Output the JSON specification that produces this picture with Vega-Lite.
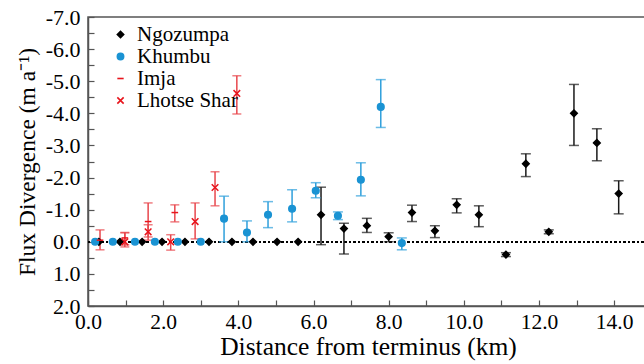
{
  "$schema": "https://vega.github.io/schema/vega-lite/v6.json",
  "width": 560,
  "height": 289,
  "autosize": {"type": "none"},
  "padding": {"left": 88, "top": 17, "right": 0, "bottom": 58},
  "config": {
    "font": "Liberation Serif",
    "view": {"stroke": "#555555", "strokeWidth": 1.5},
    "axis": {"grid": false},
    "legend": {"labelFontSize": 21, "labelColor": "black", "labelFont": "Liberation Serif", "symbolSize": 40, "symbolStrokeWidth": 1.6, "rowPadding": 0, "labelOffset": 6, "labelLimit": 300}
  },
  "data": {
    "values": [
      {"series": "Ngozumpa", "x": 0.29, "y": 0},
      {"series": "Ngozumpa", "x": 0.85, "y": 0},
      {"series": "Ngozumpa", "x": 1.44, "y": 0},
      {"series": "Ngozumpa", "x": 1.97, "y": 0},
      {"series": "Ngozumpa", "x": 2.58, "y": 0},
      {"series": "Ngozumpa", "x": 3.22, "y": 0},
      {"series": "Ngozumpa", "x": 3.83, "y": 0},
      {"series": "Ngozumpa", "x": 4.39, "y": 0},
      {"series": "Ngozumpa", "x": 5.03, "y": 0},
      {"series": "Ngozumpa", "x": 5.59, "y": 0},
      {"series": "Ngozumpa", "x": 6.2, "y": -0.84, "lo": -1.7, "hi": 0.09},
      {"series": "Ngozumpa", "x": 6.81, "y": -0.41, "lo": -0.58, "hi": 0.38},
      {"series": "Ngozumpa", "x": 7.42, "y": -0.5, "lo": -0.73, "hi": -0.29},
      {"series": "Ngozumpa", "x": 8.0, "y": -0.16, "lo": -0.28, "hi": 0.0},
      {"series": "Ngozumpa", "x": 8.62, "y": -0.91, "lo": -1.14, "hi": -0.63},
      {"series": "Ngozumpa", "x": 9.23, "y": -0.34, "lo": -0.5, "hi": -0.13},
      {"series": "Ngozumpa", "x": 9.81, "y": -1.15, "lo": -1.34, "hi": -0.9},
      {"series": "Ngozumpa", "x": 10.4, "y": -0.84, "lo": -1.12, "hi": -0.47},
      {"series": "Ngozumpa", "x": 11.12, "y": 0.4, "lo": 0.34, "hi": 0.46},
      {"series": "Ngozumpa", "x": 11.65, "y": -2.43, "lo": -2.74, "hi": -2.03},
      {"series": "Ngozumpa", "x": 12.26, "y": -0.31, "lo": -0.37, "hi": -0.25},
      {"series": "Ngozumpa", "x": 12.93, "y": -4.0, "lo": -4.9, "hi": -3.0},
      {"series": "Ngozumpa", "x": 13.54, "y": -3.08, "lo": -3.52, "hi": -2.52},
      {"series": "Ngozumpa", "x": 14.12, "y": -1.5, "lo": -1.9, "hi": -0.87},
      {"series": "Khumbu", "x": 0.19, "y": 0},
      {"series": "Khumbu", "x": 0.66, "y": 0},
      {"series": "Khumbu", "x": 1.25, "y": 0},
      {"series": "Khumbu", "x": 1.78, "y": 0},
      {"series": "Khumbu", "x": 2.39, "y": 0},
      {"series": "Khumbu", "x": 3.0, "y": 0},
      {"series": "Khumbu", "x": 3.62, "y": -0.72, "lo": -1.42, "hi": 0.0},
      {"series": "Khumbu", "x": 4.23, "y": -0.29, "lo": -0.65, "hi": 0.0},
      {"series": "Khumbu", "x": 4.79, "y": -0.84, "lo": -1.25, "hi": -0.44},
      {"series": "Khumbu", "x": 5.43, "y": -1.03, "lo": -1.62, "hi": -0.62},
      {"series": "Khumbu", "x": 6.06, "y": -1.59, "lo": -1.84, "hi": -1.37},
      {"series": "Khumbu", "x": 6.65, "y": -0.81, "lo": -0.93, "hi": -0.69},
      {"series": "Khumbu", "x": 7.26, "y": -1.93, "lo": -2.46, "hi": -1.43},
      {"series": "Khumbu", "x": 7.79, "y": -4.2, "lo": -5.05, "hi": -3.56},
      {"series": "Khumbu", "x": 8.35, "y": 0.04, "lo": -0.12, "hi": 0.25},
      {"series": "Imja", "x": 0.32, "y": -0.05, "lo": -0.37, "hi": 0.25},
      {"series": "Imja", "x": 0.98, "y": -0.12, "lo": -0.29, "hi": 0.1},
      {"series": "Imja", "x": 1.6, "y": -0.63, "lo": -1.21, "hi": -0.05},
      {"series": "Imja", "x": 2.31, "y": -0.91, "lo": -1.15, "hi": -0.62},
      {"series": "Lhotse Shar", "x": 0.98, "y": 0.0, "lo": -0.28, "hi": 0.16},
      {"series": "Lhotse Shar", "x": 1.6, "y": -0.31, "lo": -0.53, "hi": -0.15},
      {"series": "Lhotse Shar", "x": 2.2, "y": 0.0, "lo": -0.22, "hi": 0.26},
      {"series": "Lhotse Shar", "x": 2.85, "y": -0.63, "lo": -1.21, "hi": -0.09},
      {"series": "Lhotse Shar", "x": 3.38, "y": -1.69, "lo": -2.18, "hi": -1.12},
      {"series": "Lhotse Shar", "x": 3.96, "y": -4.62, "lo": -5.17, "hi": -3.98}
    ]
  },
  "encoding": {
    "x": {
      "field": "x", "type": "quantitative",
      "scale": {"domain": [0, 14.9], "nice": false, "zero": false},
      "axis": {
        "title": "Distance from terminus (km)",
        "values": [0, 1, 2, 3, 4, 5, 6, 7, 8, 9, 10, 11, 12, 13, 14],
        "labelExpr": "datum.value % 2 === 0 ? format(datum.value, '.1f') : ''",
        "labelFontSize": 21.5, "labelColor": "black", "labelPadding": 11,
        "tickSize": -6, "tickColor": "#555555", "tickWidth": 1.2,
        "domainColor": "#555555", "domainWidth": 1.5,
        "titleFontSize": 25.5, "titleFontWeight": "normal", "titleColor": "black", "titlePadding": 2,
        "labelOverlap": false, "labelFlush": false
      }
    },
    "y": {
      "field": "y", "type": "quantitative",
      "scale": {"domain": [-7, 2], "reverse": true, "nice": false, "zero": false},
      "axis": {
        "title": "Flux Divergence (m a⁻¹)",
        "values": [-7, -6.5, -6, -5.5, -5, -4.5, -4, -3.5, -3, -2.5, -2, -1.5, -1, -0.5, 0, 0.5, 1, 1.5, 2],
        "labelExpr": "datum.value % 1 === 0 ? replace(format(datum.value, '.1f'), '−', '-') : ''",
        "labelFontSize": 22, "labelColor": "black", "labelPadding": 14,
        "tickSize": -6, "tickColor": "#555555", "tickWidth": 1.2,
        "domainColor": "#555555", "domainWidth": 1.5,
        "titleFontSize": 23.5, "titleFontWeight": "normal", "titleColor": "black", "titlePadding": 6,
        "labelOverlap": false, "labelFlush": false
      }
    }
  },
  "layer": [
    {
      "mark": {"type": "rule", "color": "black", "strokeDash": [2, 2.5], "strokeWidth": 1.5},
      "encoding": {"y": {"datum": 0}, "x": null}
    },
    {
      "transform": [{"filter": "datum.series === 'Ngozumpa' && isValid(datum.lo)"}],
      "layer": [
        {"mark": {"type": "rule", "strokeWidth": 1.5, "color": "#1a1a1a"}, "encoding": {"y": {"field": "lo", "type": "quantitative"}, "y2": {"field": "hi"}}},
        {"mark": {"type": "tick", "orient": "horizontal", "size": 10, "thickness": 1.5, "color": "#1a1a1a"}, "encoding": {"y": {"field": "lo", "type": "quantitative"}}},
        {"mark": {"type": "tick", "orient": "horizontal", "size": 10, "thickness": 1.5, "color": "#1a1a1a"}, "encoding": {"y": {"field": "hi", "type": "quantitative"}}}
      ]
    },
    {
      "transform": [{"filter": "datum.series === 'Khumbu' && isValid(datum.lo)"}],
      "layer": [
        {"mark": {"type": "rule", "strokeWidth": 1.5, "color": "#2e9fdb"}, "encoding": {"y": {"field": "lo", "type": "quantitative"}, "y2": {"field": "hi"}}},
        {"mark": {"type": "tick", "orient": "horizontal", "size": 10, "thickness": 1.5, "color": "#2e9fdb"}, "encoding": {"y": {"field": "lo", "type": "quantitative"}}},
        {"mark": {"type": "tick", "orient": "horizontal", "size": 10, "thickness": 1.5, "color": "#2e9fdb"}, "encoding": {"y": {"field": "hi", "type": "quantitative"}}}
      ]
    },
    {
      "transform": [{"filter": "(datum.series === 'Imja' || datum.series === 'Lhotse Shar') && isValid(datum.lo)"}],
      "layer": [
        {"mark": {"type": "rule", "strokeWidth": 1.5, "color": "#e8474d"}, "encoding": {"y": {"field": "lo", "type": "quantitative"}, "y2": {"field": "hi"}}},
        {"mark": {"type": "tick", "orient": "horizontal", "size": 9, "thickness": 1.5, "color": "#e8474d"}, "encoding": {"y": {"field": "lo", "type": "quantitative"}}},
        {"mark": {"type": "tick", "orient": "horizontal", "size": 9, "thickness": 1.5, "color": "#e8474d"}, "encoding": {"y": {"field": "hi", "type": "quantitative"}}}
      ]
    },
    {
      "mark": {"type": "point", "filled": true, "opacity": 1, "strokeWidth": 1.5, "size": 44},
      "encoding": {
        "fill": {
          "field": "series", "type": "nominal",
          "scale": {"domain": ["Ngozumpa", "Khumbu", "Imja", "Lhotse Shar"], "range": ["#000000", "#1a93d3", "#e8141c", "#e8141c"]},
          "legend": {"title": null, "orient": "none", "legendX": 22, "legendY": 7, "labelFontSize": 21, "labelFont": "Liberation Serif", "rowPadding": 0}
        },
        "stroke": {
          "field": "series", "type": "nominal",
          "scale": {"domain": ["Ngozumpa", "Khumbu", "Imja", "Lhotse Shar"], "range": ["#000000", "#1a93d3", "#e8141c", "#e8141c"]},
          "legend": {"title": null, "orient": "none", "legendX": 22, "legendY": 7, "labelFontSize": 21, "labelFont": "Liberation Serif", "rowPadding": 0}
        },
        "shape": {
          "field": "series", "type": "nominal",
          "scale": {"domain": ["Ngozumpa", "Khumbu", "Imja", "Lhotse Shar"], "range": ["diamond", "circle", "M-1,0L1,0", "M-1,-1L1,1M-1,1L1,-1"]},
          "legend": {"title": null, "orient": "none", "legendX": 22, "legendY": 7, "labelFontSize": 21, "labelFont": "Liberation Serif", "rowPadding": 0}
        }
      }
    }
  ]
}
